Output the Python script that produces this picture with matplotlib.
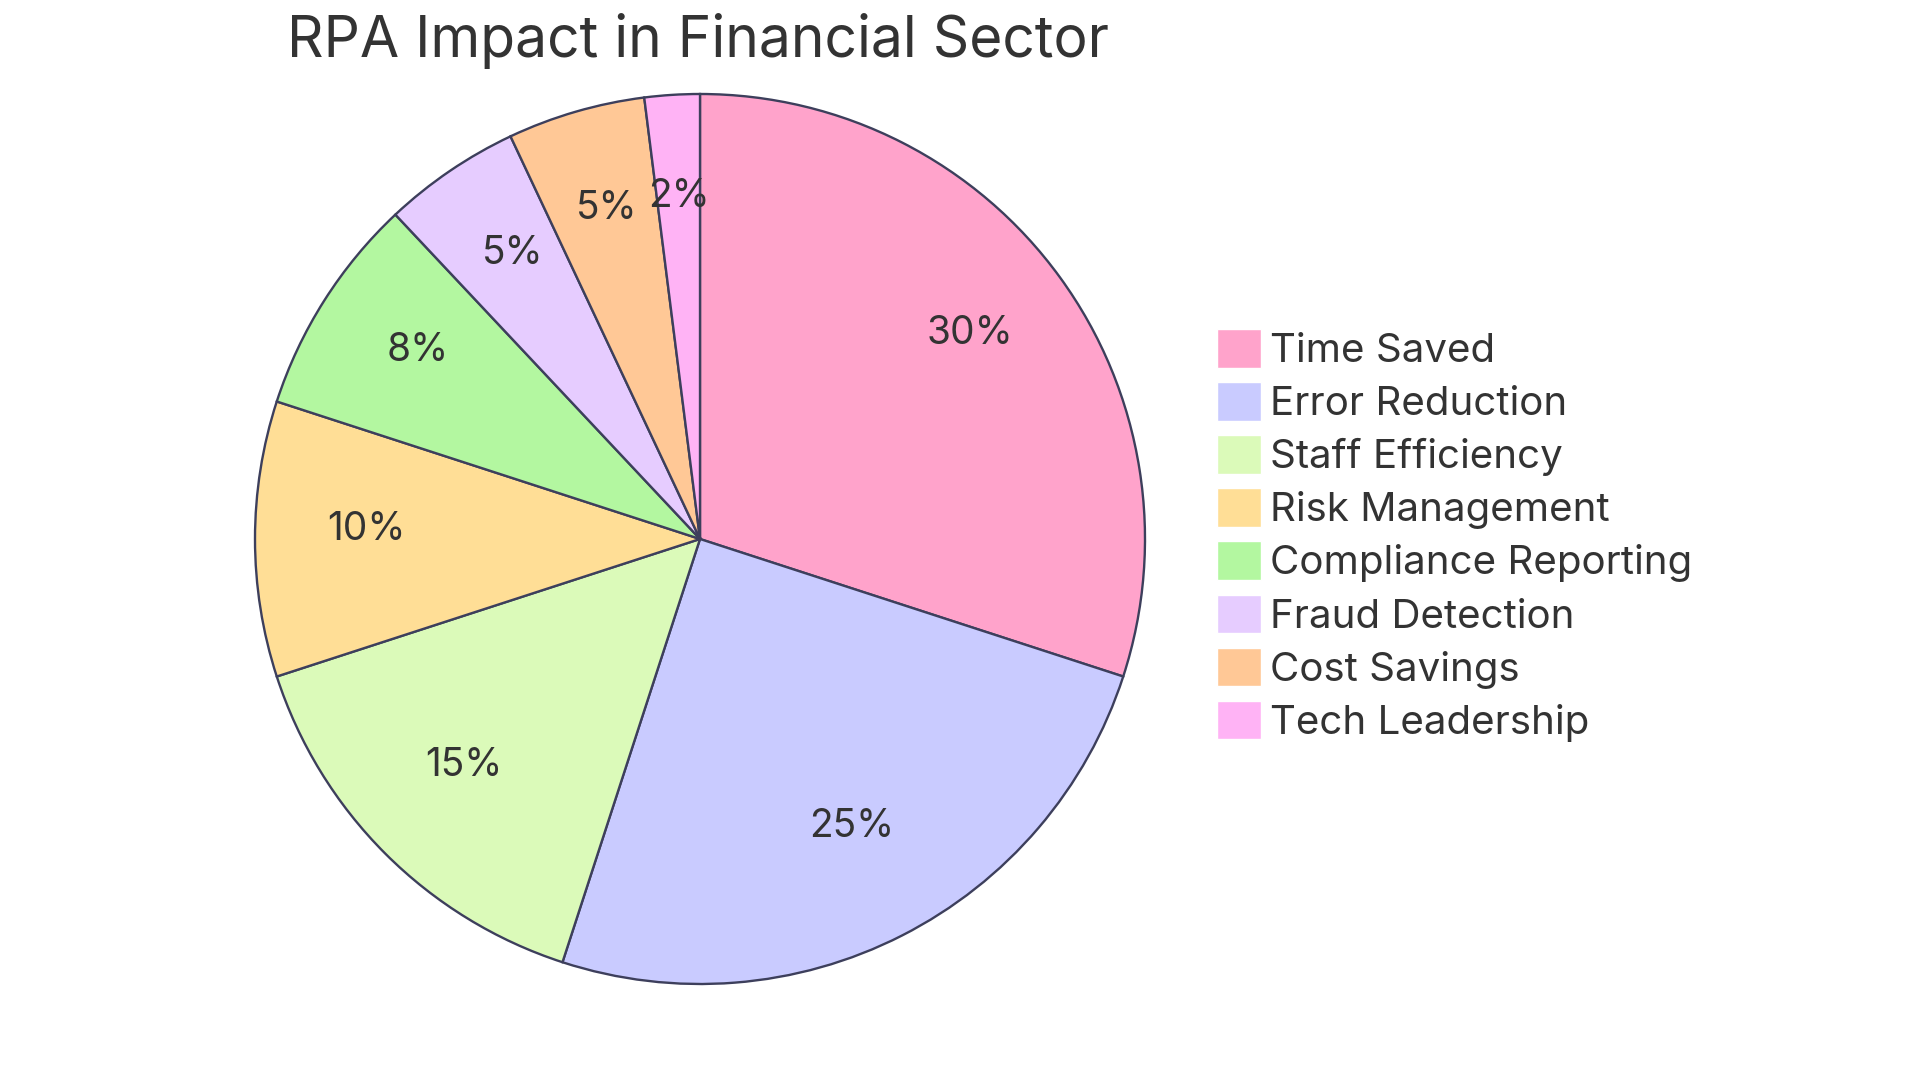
import matplotlib
matplotlib.use("Agg")
import matplotlib.pyplot as plt
from matplotlib.patches import Patch

plt.rcParams['font.family'] = ['Inter', 'DejaVu Sans']

categories = ["Time Saved", "Error Reduction", "Staff Efficiency", "Risk Management",
              "Compliance Reporting", "Fraud Detection", "Cost Savings", "Tech Leadership"]
values = [30, 25, 15, 10, 8, 5, 5, 2]
colors = ["#FFA3CB", "#C9CBFF", "#DBFAB9", "#FFDE96", "#B3F7A0", "#E6CCFF", "#FFC896", "#FFB3F5"]
title = "RPA Impact in Financial Sector"

W, H = 1920, 1080
fig = plt.figure(figsize=(W / 100, H / 100), dpi=100)
cx, cy, r = 700, 539, 445
ax = fig.add_axes([(cx - r) / W, (H - cy - r) / H, 2 * r / W, 2 * r / H])
wedges, texts, autotexts = ax.pie(
    values, colors=colors, startangle=90, counterclock=False,
    autopct=lambda p: f"{p:.0f}%", pctdistance=0.75,
    wedgeprops=dict(edgecolor="#3d3f5c", linewidth=1.7),
    textprops=dict(color="#333333", fontsize=28))
for t in autotexts:
    x, y = t.get_position()
    t.set_position((x, y + 0.022))
ax.set_xlim(-1, 1)
ax.set_ylim(-1, 1)
ax.set_aspect('equal')
ax.axis('off')

fig.text(698 / W, 1 - 41 / H, title, ha='center', va='center', fontsize=41, color="#333333")

handles = [Patch(facecolor=c, edgecolor='white', linewidth=1.0) for c in colors]
leg = fig.legend(handles, categories, loc='upper left',
                 bbox_to_anchor=(1217 / W, 1 - 329 / H), frameon=False,
                 fontsize=29, labelcolor="#333333", handlelength=1.1, handleheight=1.1,
                 handletextpad=0.22, labelspacing=0.30, borderpad=0, borderaxespad=0)

fig.savefig("out.png", dpi=100, facecolor='white')
